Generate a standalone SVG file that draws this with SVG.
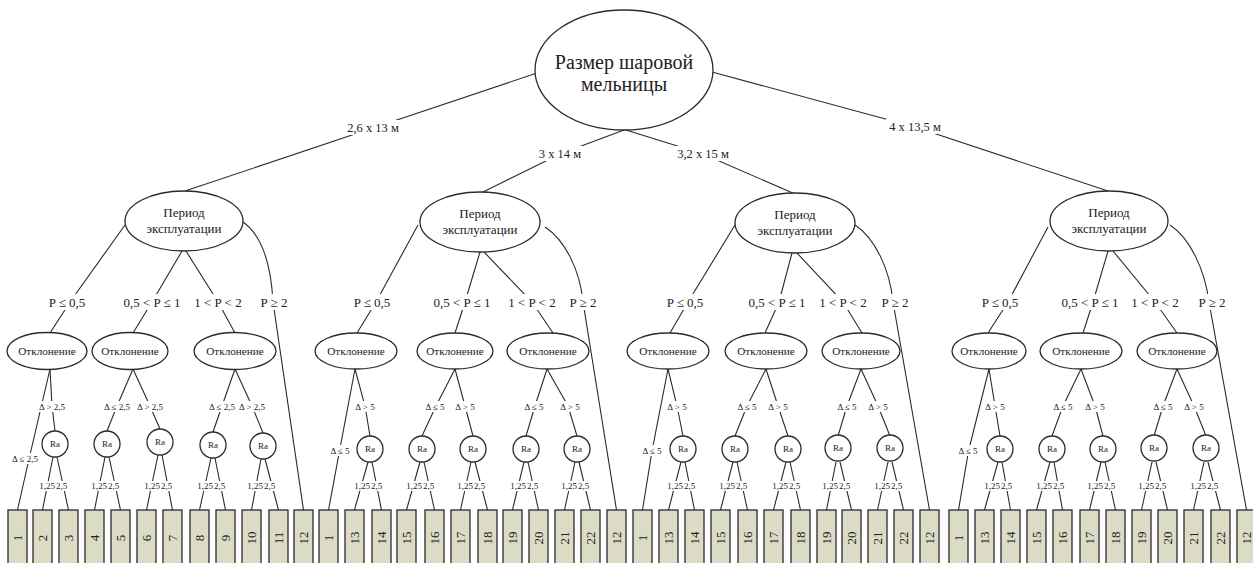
<svg xmlns="http://www.w3.org/2000/svg" width="1253" height="563" viewBox="0 0 1253 563">
<style>
.e{fill:#fff;stroke:#2a2a2a;stroke-width:1.3}
.c{fill:none;stroke:#2a2a2a;stroke-width:1.1}
.b{fill:#dcdcc6;stroke:#2a2a2a;stroke-width:1.3}
.w{fill:#fff}
text{font-family:"Liberation Serif","Times New Roman",serif;fill:#222;text-anchor:middle}
.rt{font-size:20px}
.pt{font-size:13px}
.ot{font-size:11.2px}
.rl{font-size:12.5px}
.pl{font-size:13px}
.dl{font-size:9px}
.ra{font-size:9px}
.bn{font-size:13px}
.l{text-anchor:end}
.r{text-anchor:start}
</style>
<rect width="1253" height="563" fill="#fff"/>
<g id="connectors">
<path class="c" d="M537,73 L373,128 L185,191"/>
<path class="c" d="M624,130 L560,154 L481,193"/>
<path class="c" d="M626,130 L703,154 L795,194"/>
<path class="c" d="M712,72 L915,127 L1108,191"/>
<path class="c" d="M125,225 L70,302 L50,333"/>
<path class="c" d="M182,251 L152,302 L133,333"/>
<path class="c" d="M186,251 L218,302 L235,333"/>
<path class="c" d="M243,222 C263,236 271,265 273,302 L303.5,510"/>
<path class="c" d="M50,369 L29,459 L17.5,510"/>
<path class="c" d="M50,369 L52,406 L55,431"/>
<path class="c" d="M53,457 L42.5,510 M57,457 L68.5,510"/>
<path class="c" d="M133,369 L117,406 L107,431"/>
<path class="c" d="M133,369 L150,406 L160,429"/>
<path class="c" d="M105,457 L94.5,510 M109,457 L120.5,510"/>
<path class="c" d="M158,455 L146.5,510 M162,455 L172.5,510"/>
<path class="c" d="M235,369 L222,406 L213,432"/>
<path class="c" d="M235,369 L252,406 L263,433"/>
<path class="c" d="M211,458 L199.5,510 M215,458 L225.5,510"/>
<path class="c" d="M261,459 L251.5,510 M265,459 L278.5,510"/>
<path class="c" d="M418,225 L376,302 L357,333"/>
<path class="c" d="M480,252 L465,302 L455,333"/>
<path class="c" d="M484,252 L532,302 L553,333"/>
<path class="c" d="M545,227 C565,240 580,270 583,302 L616.5,510"/>
<path class="c" d="M355,369 L339.5,451 L328.5,510"/>
<path class="c" d="M355,369 L365,406 L370,436"/>
<path class="c" d="M368,462 L354.5,510 M372,462 L381.5,510"/>
<path class="c" d="M455,369 L436,406 L422,436"/>
<path class="c" d="M455,369 L465,406 L473,436"/>
<path class="c" d="M420,462 L406.5,510 M424,462 L434.5,510"/>
<path class="c" d="M471,462 L460.5,510 M475,462 L487.5,510"/>
<path class="c" d="M547,369 L535,406 L526,436"/>
<path class="c" d="M547,369 L568,406 L577,436"/>
<path class="c" d="M524,462 L512.5,510 M528,462 L538.5,510"/>
<path class="c" d="M575,462 L564.5,510 M579,462 L590.5,510"/>
<path class="c" d="M735,225 L688,302 L670,333"/>
<path class="c" d="M792,253 L779,302 L765,333"/>
<path class="c" d="M797,253 L843,302 L862,333"/>
<path class="c" d="M855,225 C875,238 890,270 893,302 L929.5,510"/>
<path class="c" d="M668,369 L652,451 L642.5,510"/>
<path class="c" d="M668,369 L677,406 L683,436"/>
<path class="c" d="M681,462 L668.5,510 M685,462 L694.5,510"/>
<path class="c" d="M766,369 L747,406 L735,436"/>
<path class="c" d="M766,369 L778,406 L788,436"/>
<path class="c" d="M733,462 L720.5,510 M737,462 L747.5,510"/>
<path class="c" d="M786,462 L773.5,510 M790,462 L800.5,510"/>
<path class="c" d="M861,369 L847,406 L838,436"/>
<path class="c" d="M861,369 L878,406 L890,436"/>
<path class="c" d="M836,462 L826.5,510 M840,462 L851.5,510"/>
<path class="c" d="M888,462 L877.5,510 M892,462 L903.5,510"/>
<path class="c" d="M1048,227 L1008,302 L988,333"/>
<path class="c" d="M1108,251 L1093,302 L1083,333"/>
<path class="c" d="M1113,251 L1155,302 L1177,333"/>
<path class="c" d="M1170,225 C1190,238 1205,270 1209,302 L1246.5,510"/>
<path class="c" d="M989,369 L968.5,451 L958.5,510"/>
<path class="c" d="M989,369 L995,406 L1000,436"/>
<path class="c" d="M998,462 L984.5,510 M1002,462 L1010.5,510"/>
<path class="c" d="M1081,369 L1063,406 L1052,436"/>
<path class="c" d="M1081,369 L1095,406 L1103,436"/>
<path class="c" d="M1050,462 L1036.5,510 M1054,462 L1062.5,510"/>
<path class="c" d="M1101,462 L1089.5,510 M1105,462 L1115.5,510"/>
<path class="c" d="M1177,369 L1163,406 L1154,436"/>
<path class="c" d="M1177,369 L1194,406 L1206,436"/>
<path class="c" d="M1152,462 L1141.5,510 M1156,462 L1167.5,510"/>
<path class="c" d="M1204,462 L1193.5,510 M1208,462 L1220.5,510"/>
<rect class="w" x="346" y="120" width="54" height="15"/><text class="rl" x="373" y="132">2,6 х 13 м</text>
<rect class="w" x="537" y="146" width="46" height="15"/><text class="rl" x="560" y="158">3 х 14 м</text>
<rect class="w" x="675" y="146" width="56" height="15"/><text class="rl" x="703" y="158">3,2 х 15 м</text>
<rect class="w" x="886" y="119" width="58" height="15"/><text class="rl" x="915" y="131">4 х 13,5 м</text>
<rect class="w" x="46" y="294" width="42" height="16"/><text class="pl" x="67" y="307">P ≤ 0,5</text>
<rect class="w" x="121" y="294" width="62" height="16"/><text class="pl" x="152" y="307">0,5 &lt; P ≤ 1</text>
<rect class="w" x="194" y="294" width="48" height="16"/><text class="pl" x="218" y="307">1 &lt; P &lt; 2</text>
<rect class="w" x="260" y="294" width="28" height="16"/><text class="pl" x="274" y="307">P ≥ 2</text>
<rect class="w" x="351" y="294" width="42" height="16"/><text class="pl" x="372" y="307">P ≤ 0,5</text>
<rect class="w" x="431" y="294" width="62" height="16"/><text class="pl" x="462" y="307">0,5 &lt; P ≤ 1</text>
<rect class="w" x="508" y="294" width="48" height="16"/><text class="pl" x="532" y="307">1 &lt; P &lt; 2</text>
<rect class="w" x="569" y="294" width="28" height="16"/><text class="pl" x="583" y="307">P ≥ 2</text>
<rect class="w" x="664" y="294" width="42" height="16"/><text class="pl" x="685" y="307">P ≤ 0,5</text>
<rect class="w" x="746" y="294" width="62" height="16"/><text class="pl" x="777" y="307">0,5 &lt; P ≤ 1</text>
<rect class="w" x="819" y="294" width="48" height="16"/><text class="pl" x="843" y="307">1 &lt; P &lt; 2</text>
<rect class="w" x="881" y="294" width="28" height="16"/><text class="pl" x="895" y="307">P ≥ 2</text>
<rect class="w" x="979" y="294" width="42" height="16"/><text class="pl" x="1000" y="307">P ≤ 0,5</text>
<rect class="w" x="1059" y="294" width="62" height="16"/><text class="pl" x="1090" y="307">0,5 &lt; P ≤ 1</text>
<rect class="w" x="1131" y="294" width="48" height="16"/><text class="pl" x="1155" y="307">1 &lt; P &lt; 2</text>
<rect class="w" x="1198" y="294" width="28" height="16"/><text class="pl" x="1212" y="307">P ≥ 2</text>
<rect class="w" x="12" y="453" width="27" height="11"/><text class="dl" x="25" y="462">Δ ≤ 2,5</text>
<rect class="w" x="39" y="401" width="27" height="11"/><text class="dl" x="52" y="410">Δ &gt; 2,5</text>
<rect class="w" x="104" y="401" width="27" height="11"/><text class="dl" x="117" y="410">Δ ≤ 2,5</text>
<rect class="w" x="137" y="401" width="27" height="11"/><text class="dl" x="150" y="410">Δ &gt; 2,5</text>
<rect class="w" x="209" y="401" width="27" height="11"/><text class="dl" x="222" y="410">Δ ≤ 2,5</text>
<rect class="w" x="239" y="401" width="27" height="11"/><text class="dl" x="252" y="410">Δ &gt; 2,5</text>
<rect class="w" x="329" y="445" width="22" height="11"/><text class="dl" x="340" y="454">Δ ≤ 5</text>
<rect class="w" x="354" y="401" width="22" height="11"/><text class="dl" x="365" y="410">Δ &gt; 5</text>
<rect class="w" x="424" y="401" width="22" height="11"/><text class="dl" x="435" y="410">Δ ≤ 5</text>
<rect class="w" x="454" y="401" width="22" height="11"/><text class="dl" x="465" y="410">Δ &gt; 5</text>
<rect class="w" x="523" y="401" width="22" height="11"/><text class="dl" x="534" y="410">Δ ≤ 5</text>
<rect class="w" x="559" y="401" width="22" height="11"/><text class="dl" x="570" y="410">Δ &gt; 5</text>
<rect class="w" x="641" y="445" width="22" height="11"/><text class="dl" x="652" y="454">Δ ≤ 5</text>
<rect class="w" x="666" y="401" width="22" height="11"/><text class="dl" x="677" y="410">Δ &gt; 5</text>
<rect class="w" x="736" y="401" width="22" height="11"/><text class="dl" x="747" y="410">Δ ≤ 5</text>
<rect class="w" x="767" y="401" width="22" height="11"/><text class="dl" x="778" y="410">Δ &gt; 5</text>
<rect class="w" x="836" y="401" width="22" height="11"/><text class="dl" x="847" y="410">Δ ≤ 5</text>
<rect class="w" x="867" y="401" width="22" height="11"/><text class="dl" x="878" y="410">Δ &gt; 5</text>
<rect class="w" x="957" y="445" width="22" height="11"/><text class="dl" x="968" y="454">Δ ≤ 5</text>
<rect class="w" x="984" y="401" width="22" height="11"/><text class="dl" x="995" y="410">Δ &gt; 5</text>
<rect class="w" x="1052" y="401" width="22" height="11"/><text class="dl" x="1063" y="410">Δ ≤ 5</text>
<rect class="w" x="1084" y="401" width="22" height="11"/><text class="dl" x="1095" y="410">Δ &gt; 5</text>
<rect class="w" x="1152" y="401" width="22" height="11"/><text class="dl" x="1163" y="410">Δ ≤ 5</text>
<rect class="w" x="1183" y="401" width="22" height="11"/><text class="dl" x="1194" y="410">Δ &gt; 5</text>
<g id="ralabels">
<rect class="w" x="41" y="481" width="27" height="10"/><text class="dl l" x="55" y="489">1,25</text><text class="dl r" x="56" y="489">2,5</text>
<rect class="w" x="93" y="481" width="27" height="10"/><text class="dl l" x="107" y="489">1,25</text><text class="dl r" x="108" y="489">2,5</text>
<rect class="w" x="146" y="481" width="27" height="10"/><text class="dl l" x="160" y="489">1,25</text><text class="dl r" x="161" y="489">2,5</text>
<rect class="w" x="199" y="481" width="27" height="10"/><text class="dl l" x="213" y="489">1,25</text><text class="dl r" x="214" y="489">2,5</text>
<rect class="w" x="249" y="481" width="27" height="10"/><text class="dl l" x="263" y="489">1,25</text><text class="dl r" x="264" y="489">2,5</text>
<rect class="w" x="356" y="481" width="27" height="10"/><text class="dl l" x="370" y="489">1,25</text><text class="dl r" x="371" y="489">2,5</text>
<rect class="w" x="408" y="481" width="27" height="10"/><text class="dl l" x="422" y="489">1,25</text><text class="dl r" x="423" y="489">2,5</text>
<rect class="w" x="459" y="481" width="27" height="10"/><text class="dl l" x="473" y="489">1,25</text><text class="dl r" x="474" y="489">2,5</text>
<rect class="w" x="512" y="481" width="27" height="10"/><text class="dl l" x="526" y="489">1,25</text><text class="dl r" x="527" y="489">2,5</text>
<rect class="w" x="563" y="481" width="27" height="10"/><text class="dl l" x="577" y="489">1,25</text><text class="dl r" x="578" y="489">2,5</text>
<rect class="w" x="669" y="481" width="27" height="10"/><text class="dl l" x="683" y="489">1,25</text><text class="dl r" x="684" y="489">2,5</text>
<rect class="w" x="721" y="481" width="27" height="10"/><text class="dl l" x="735" y="489">1,25</text><text class="dl r" x="736" y="489">2,5</text>
<rect class="w" x="774" y="481" width="27" height="10"/><text class="dl l" x="788" y="489">1,25</text><text class="dl r" x="789" y="489">2,5</text>
<rect class="w" x="824" y="481" width="27" height="10"/><text class="dl l" x="838" y="489">1,25</text><text class="dl r" x="839" y="489">2,5</text>
<rect class="w" x="876" y="481" width="27" height="10"/><text class="dl l" x="890" y="489">1,25</text><text class="dl r" x="891" y="489">2,5</text>
<rect class="w" x="986" y="481" width="27" height="10"/><text class="dl l" x="1000" y="489">1,25</text><text class="dl r" x="1001" y="489">2,5</text>
<rect class="w" x="1038" y="481" width="27" height="10"/><text class="dl l" x="1052" y="489">1,25</text><text class="dl r" x="1053" y="489">2,5</text>
<rect class="w" x="1089" y="481" width="27" height="10"/><text class="dl l" x="1103" y="489">1,25</text><text class="dl r" x="1104" y="489">2,5</text>
<rect class="w" x="1140" y="481" width="27" height="10"/><text class="dl l" x="1154" y="489">1,25</text><text class="dl r" x="1155" y="489">2,5</text>
<rect class="w" x="1192" y="481" width="27" height="10"/><text class="dl l" x="1206" y="489">1,25</text><text class="dl r" x="1207" y="489">2,5</text>
</g>
</g>
<g id="root"><ellipse class="e" cx="624" cy="70" rx="89" ry="60"/><text class="rt" x="624" y="69">Размер шаровой</text><text class="rt" x="624" y="91">мельницы</text></g>
<g id="period1"><ellipse class="e" cx="184" cy="221" rx="59" ry="30"/><text class="pt" x="184" y="217">Период</text><text class="pt" x="184" y="233">эксплуатации</text></g>
<g id="period2"><ellipse class="e" cx="480" cy="222" rx="60" ry="30"/><text class="pt" x="480" y="218">Период</text><text class="pt" x="480" y="234">эксплуатации</text></g>
<g id="period3"><ellipse class="e" cx="795" cy="223" rx="60" ry="30"/><text class="pt" x="795" y="219">Период</text><text class="pt" x="795" y="235">эксплуатации</text></g>
<g id="period4"><ellipse class="e" cx="1109" cy="221" rx="59" ry="30"/><text class="pt" x="1109" y="217">Период</text><text class="pt" x="1109" y="233">эксплуатации</text></g>
<g id="otkl1a"><ellipse class="e" cx="47" cy="351" rx="40" ry="18.5"/><text class="ot" x="47" y="355">Отклонение</text></g>
<g id="otkl1b"><ellipse class="e" cx="130" cy="351" rx="38" ry="18.5"/><text class="ot" x="130" y="355">Отклонение</text></g>
<g id="otkl1c"><ellipse class="e" cx="235" cy="351" rx="41" ry="18.5"/><text class="ot" x="235" y="355">Отклонение</text></g>
<g id="otkl2a"><ellipse class="e" cx="356" cy="351" rx="41" ry="18"/><text class="ot" x="356" y="355">Отклонение</text></g>
<g id="otkl2b"><ellipse class="e" cx="455" cy="351" rx="38" ry="18"/><text class="ot" x="455" y="355">Отклонение</text></g>
<g id="otkl2c"><ellipse class="e" cx="548" cy="351" rx="41" ry="18"/><text class="ot" x="548" y="355">Отклонение</text></g>
<g id="otkl3a"><ellipse class="e" cx="668" cy="351" rx="41" ry="18"/><text class="ot" x="668" y="355">Отклонение</text></g>
<g id="otkl3b"><ellipse class="e" cx="766" cy="351" rx="41" ry="18"/><text class="ot" x="766" y="355">Отклонение</text></g>
<g id="otkl3c"><ellipse class="e" cx="861" cy="351" rx="39" ry="18"/><text class="ot" x="861" y="355">Отклонение</text></g>
<g id="otkl4a"><ellipse class="e" cx="989" cy="351" rx="37" ry="18"/><text class="ot" x="989" y="355">Отклонение</text></g>
<g id="otkl4b"><ellipse class="e" cx="1081" cy="351" rx="41" ry="18"/><text class="ot" x="1081" y="355">Отклонение</text></g>
<g id="otkl4c"><ellipse class="e" cx="1177" cy="351" rx="40" ry="18"/><text class="ot" x="1177" y="355">Отклонение</text></g>
<g id="ra1a"><circle class="e" cx="55" cy="444" r="13"/><text class="ra" x="55" y="447">Ra</text></g>
<g id="ra1b"><circle class="e" cx="107" cy="444" r="13"/><text class="ra" x="107" y="447">Ra</text></g>
<g id="ra1c"><circle class="e" cx="160" cy="442" r="13"/><text class="ra" x="160" y="445">Ra</text></g>
<g id="ra1d"><circle class="e" cx="213" cy="445" r="13"/><text class="ra" x="213" y="448">Ra</text></g>
<g id="ra1e"><circle class="e" cx="263" cy="446" r="13"/><text class="ra" x="263" y="449">Ra</text></g>
<g id="ra2a"><circle class="e" cx="370" cy="449" r="13"/><text class="ra" x="370" y="452">Ra</text></g>
<g id="ra2b"><circle class="e" cx="422" cy="449" r="13"/><text class="ra" x="422" y="452">Ra</text></g>
<g id="ra2c"><circle class="e" cx="473" cy="449" r="13"/><text class="ra" x="473" y="452">Ra</text></g>
<g id="ra2d"><circle class="e" cx="526" cy="449" r="13"/><text class="ra" x="526" y="452">Ra</text></g>
<g id="ra2e"><circle class="e" cx="577" cy="449" r="13"/><text class="ra" x="577" y="452">Ra</text></g>
<g id="ra3a"><circle class="e" cx="683" cy="449" r="13"/><text class="ra" x="683" y="452">Ra</text></g>
<g id="ra3b"><circle class="e" cx="735" cy="449" r="13"/><text class="ra" x="735" y="452">Ra</text></g>
<g id="ra3c"><circle class="e" cx="788" cy="449" r="13"/><text class="ra" x="788" y="452">Ra</text></g>
<g id="ra3d"><circle class="e" cx="838" cy="448" r="13"/><text class="ra" x="838" y="451">Ra</text></g>
<g id="ra3e"><circle class="e" cx="890" cy="448" r="13"/><text class="ra" x="890" y="451">Ra</text></g>
<g id="ra4a"><circle class="e" cx="1000" cy="449" r="13"/><text class="ra" x="1000" y="452">Ra</text></g>
<g id="ra4b"><circle class="e" cx="1052" cy="449" r="13"/><text class="ra" x="1052" y="452">Ra</text></g>
<g id="ra4c"><circle class="e" cx="1103" cy="449" r="13"/><text class="ra" x="1103" y="452">Ra</text></g>
<g id="ra4d"><circle class="e" cx="1154" cy="448" r="13"/><text class="ra" x="1154" y="451">Ra</text></g>
<g id="ra4e"><circle class="e" cx="1206" cy="448" r="13"/><text class="ra" x="1206" y="451">Ra</text></g>
<g id="b1_1"><rect class="b" x="8" y="510" width="19" height="60"/><text class="bn" transform="translate(17.5,538) rotate(-90)" dy="4.5">1</text></g>
<g id="b1_2"><rect class="b" x="33" y="510" width="19" height="60"/><text class="bn" transform="translate(42.5,538) rotate(-90)" dy="4.5">2</text></g>
<g id="b1_3"><rect class="b" x="59" y="510" width="19" height="60"/><text class="bn" transform="translate(68.5,538) rotate(-90)" dy="4.5">3</text></g>
<g id="b1_4"><rect class="b" x="85" y="510" width="19" height="60"/><text class="bn" transform="translate(94.5,538) rotate(-90)" dy="4.5">4</text></g>
<g id="b1_5"><rect class="b" x="111" y="510" width="19" height="60"/><text class="bn" transform="translate(120.5,538) rotate(-90)" dy="4.5">5</text></g>
<g id="b1_6"><rect class="b" x="137" y="510" width="19" height="60"/><text class="bn" transform="translate(146.5,538) rotate(-90)" dy="4.5">6</text></g>
<g id="b1_7"><rect class="b" x="163" y="510" width="19" height="60"/><text class="bn" transform="translate(172.5,538) rotate(-90)" dy="4.5">7</text></g>
<g id="b1_8"><rect class="b" x="190" y="510" width="19" height="60"/><text class="bn" transform="translate(199.5,538) rotate(-90)" dy="4.5">8</text></g>
<g id="b1_9"><rect class="b" x="216" y="510" width="19" height="60"/><text class="bn" transform="translate(225.5,538) rotate(-90)" dy="4.5">9</text></g>
<g id="b1_10"><rect class="b" x="242" y="510" width="19" height="60"/><text class="bn" transform="translate(251.5,538) rotate(-90)" dy="4.5">10</text></g>
<g id="b1_11"><rect class="b" x="269" y="510" width="19" height="60"/><text class="bn" transform="translate(278.5,538) rotate(-90)" dy="4.5">11</text></g>
<g id="b1_12"><rect class="b" x="294" y="510" width="19" height="60"/><text class="bn" transform="translate(303.5,538) rotate(-90)" dy="4.5">12</text></g>
<g id="b2_1"><rect class="b" x="319" y="510" width="19" height="60"/><text class="bn" transform="translate(328.5,538) rotate(-90)" dy="4.5">1</text></g>
<g id="b2_13"><rect class="b" x="345" y="510" width="19" height="60"/><text class="bn" transform="translate(354.5,538) rotate(-90)" dy="4.5">13</text></g>
<g id="b2_14"><rect class="b" x="372" y="510" width="19" height="60"/><text class="bn" transform="translate(381.5,538) rotate(-90)" dy="4.5">14</text></g>
<g id="b2_15"><rect class="b" x="397" y="510" width="19" height="60"/><text class="bn" transform="translate(406.5,538) rotate(-90)" dy="4.5">15</text></g>
<g id="b2_16"><rect class="b" x="425" y="510" width="19" height="60"/><text class="bn" transform="translate(434.5,538) rotate(-90)" dy="4.5">16</text></g>
<g id="b2_17"><rect class="b" x="451" y="510" width="19" height="60"/><text class="bn" transform="translate(460.5,538) rotate(-90)" dy="4.5">17</text></g>
<g id="b2_18"><rect class="b" x="478" y="510" width="19" height="60"/><text class="bn" transform="translate(487.5,538) rotate(-90)" dy="4.5">18</text></g>
<g id="b2_19"><rect class="b" x="503" y="510" width="19" height="60"/><text class="bn" transform="translate(512.5,538) rotate(-90)" dy="4.5">19</text></g>
<g id="b2_20"><rect class="b" x="529" y="510" width="19" height="60"/><text class="bn" transform="translate(538.5,538) rotate(-90)" dy="4.5">20</text></g>
<g id="b2_21"><rect class="b" x="555" y="510" width="19" height="60"/><text class="bn" transform="translate(564.5,538) rotate(-90)" dy="4.5">21</text></g>
<g id="b2_22"><rect class="b" x="581" y="510" width="19" height="60"/><text class="bn" transform="translate(590.5,538) rotate(-90)" dy="4.5">22</text></g>
<g id="b2_12"><rect class="b" x="607" y="510" width="19" height="60"/><text class="bn" transform="translate(616.5,538) rotate(-90)" dy="4.5">12</text></g>
<g id="b3_1"><rect class="b" x="633" y="510" width="19" height="60"/><text class="bn" transform="translate(642.5,538) rotate(-90)" dy="4.5">1</text></g>
<g id="b3_13"><rect class="b" x="659" y="510" width="19" height="60"/><text class="bn" transform="translate(668.5,538) rotate(-90)" dy="4.5">13</text></g>
<g id="b3_14"><rect class="b" x="685" y="510" width="19" height="60"/><text class="bn" transform="translate(694.5,538) rotate(-90)" dy="4.5">14</text></g>
<g id="b3_15"><rect class="b" x="711" y="510" width="19" height="60"/><text class="bn" transform="translate(720.5,538) rotate(-90)" dy="4.5">15</text></g>
<g id="b3_16"><rect class="b" x="738" y="510" width="19" height="60"/><text class="bn" transform="translate(747.5,538) rotate(-90)" dy="4.5">16</text></g>
<g id="b3_17"><rect class="b" x="764" y="510" width="19" height="60"/><text class="bn" transform="translate(773.5,538) rotate(-90)" dy="4.5">17</text></g>
<g id="b3_18"><rect class="b" x="791" y="510" width="19" height="60"/><text class="bn" transform="translate(800.5,538) rotate(-90)" dy="4.5">18</text></g>
<g id="b3_19"><rect class="b" x="817" y="510" width="19" height="60"/><text class="bn" transform="translate(826.5,538) rotate(-90)" dy="4.5">19</text></g>
<g id="b3_20"><rect class="b" x="842" y="510" width="19" height="60"/><text class="bn" transform="translate(851.5,538) rotate(-90)" dy="4.5">20</text></g>
<g id="b3_21"><rect class="b" x="868" y="510" width="19" height="60"/><text class="bn" transform="translate(877.5,538) rotate(-90)" dy="4.5">21</text></g>
<g id="b3_22"><rect class="b" x="894" y="510" width="19" height="60"/><text class="bn" transform="translate(903.5,538) rotate(-90)" dy="4.5">22</text></g>
<g id="b3_12"><rect class="b" x="920" y="510" width="19" height="60"/><text class="bn" transform="translate(929.5,538) rotate(-90)" dy="4.5">12</text></g>
<g id="b4_1"><rect class="b" x="949" y="510" width="19" height="60"/><text class="bn" transform="translate(958.5,538) rotate(-90)" dy="4.5">1</text></g>
<g id="b4_13"><rect class="b" x="975" y="510" width="19" height="60"/><text class="bn" transform="translate(984.5,538) rotate(-90)" dy="4.5">13</text></g>
<g id="b4_14"><rect class="b" x="1001" y="510" width="19" height="60"/><text class="bn" transform="translate(1010.5,538) rotate(-90)" dy="4.5">14</text></g>
<g id="b4_15"><rect class="b" x="1027" y="510" width="19" height="60"/><text class="bn" transform="translate(1036.5,538) rotate(-90)" dy="4.5">15</text></g>
<g id="b4_16"><rect class="b" x="1053" y="510" width="19" height="60"/><text class="bn" transform="translate(1062.5,538) rotate(-90)" dy="4.5">16</text></g>
<g id="b4_17"><rect class="b" x="1080" y="510" width="19" height="60"/><text class="bn" transform="translate(1089.5,538) rotate(-90)" dy="4.5">17</text></g>
<g id="b4_18"><rect class="b" x="1106" y="510" width="19" height="60"/><text class="bn" transform="translate(1115.5,538) rotate(-90)" dy="4.5">18</text></g>
<g id="b4_19"><rect class="b" x="1132" y="510" width="19" height="60"/><text class="bn" transform="translate(1141.5,538) rotate(-90)" dy="4.5">19</text></g>
<g id="b4_20"><rect class="b" x="1158" y="510" width="19" height="60"/><text class="bn" transform="translate(1167.5,538) rotate(-90)" dy="4.5">20</text></g>
<g id="b4_21"><rect class="b" x="1184" y="510" width="19" height="60"/><text class="bn" transform="translate(1193.5,538) rotate(-90)" dy="4.5">21</text></g>
<g id="b4_22"><rect class="b" x="1211" y="510" width="19" height="60"/><text class="bn" transform="translate(1220.5,538) rotate(-90)" dy="4.5">22</text></g>
<g id="b4_12"><rect class="b" x="1237" y="510" width="19" height="60"/><text class="bn" transform="translate(1246.5,538) rotate(-90)" dy="4.5">12</text></g>
</svg>
